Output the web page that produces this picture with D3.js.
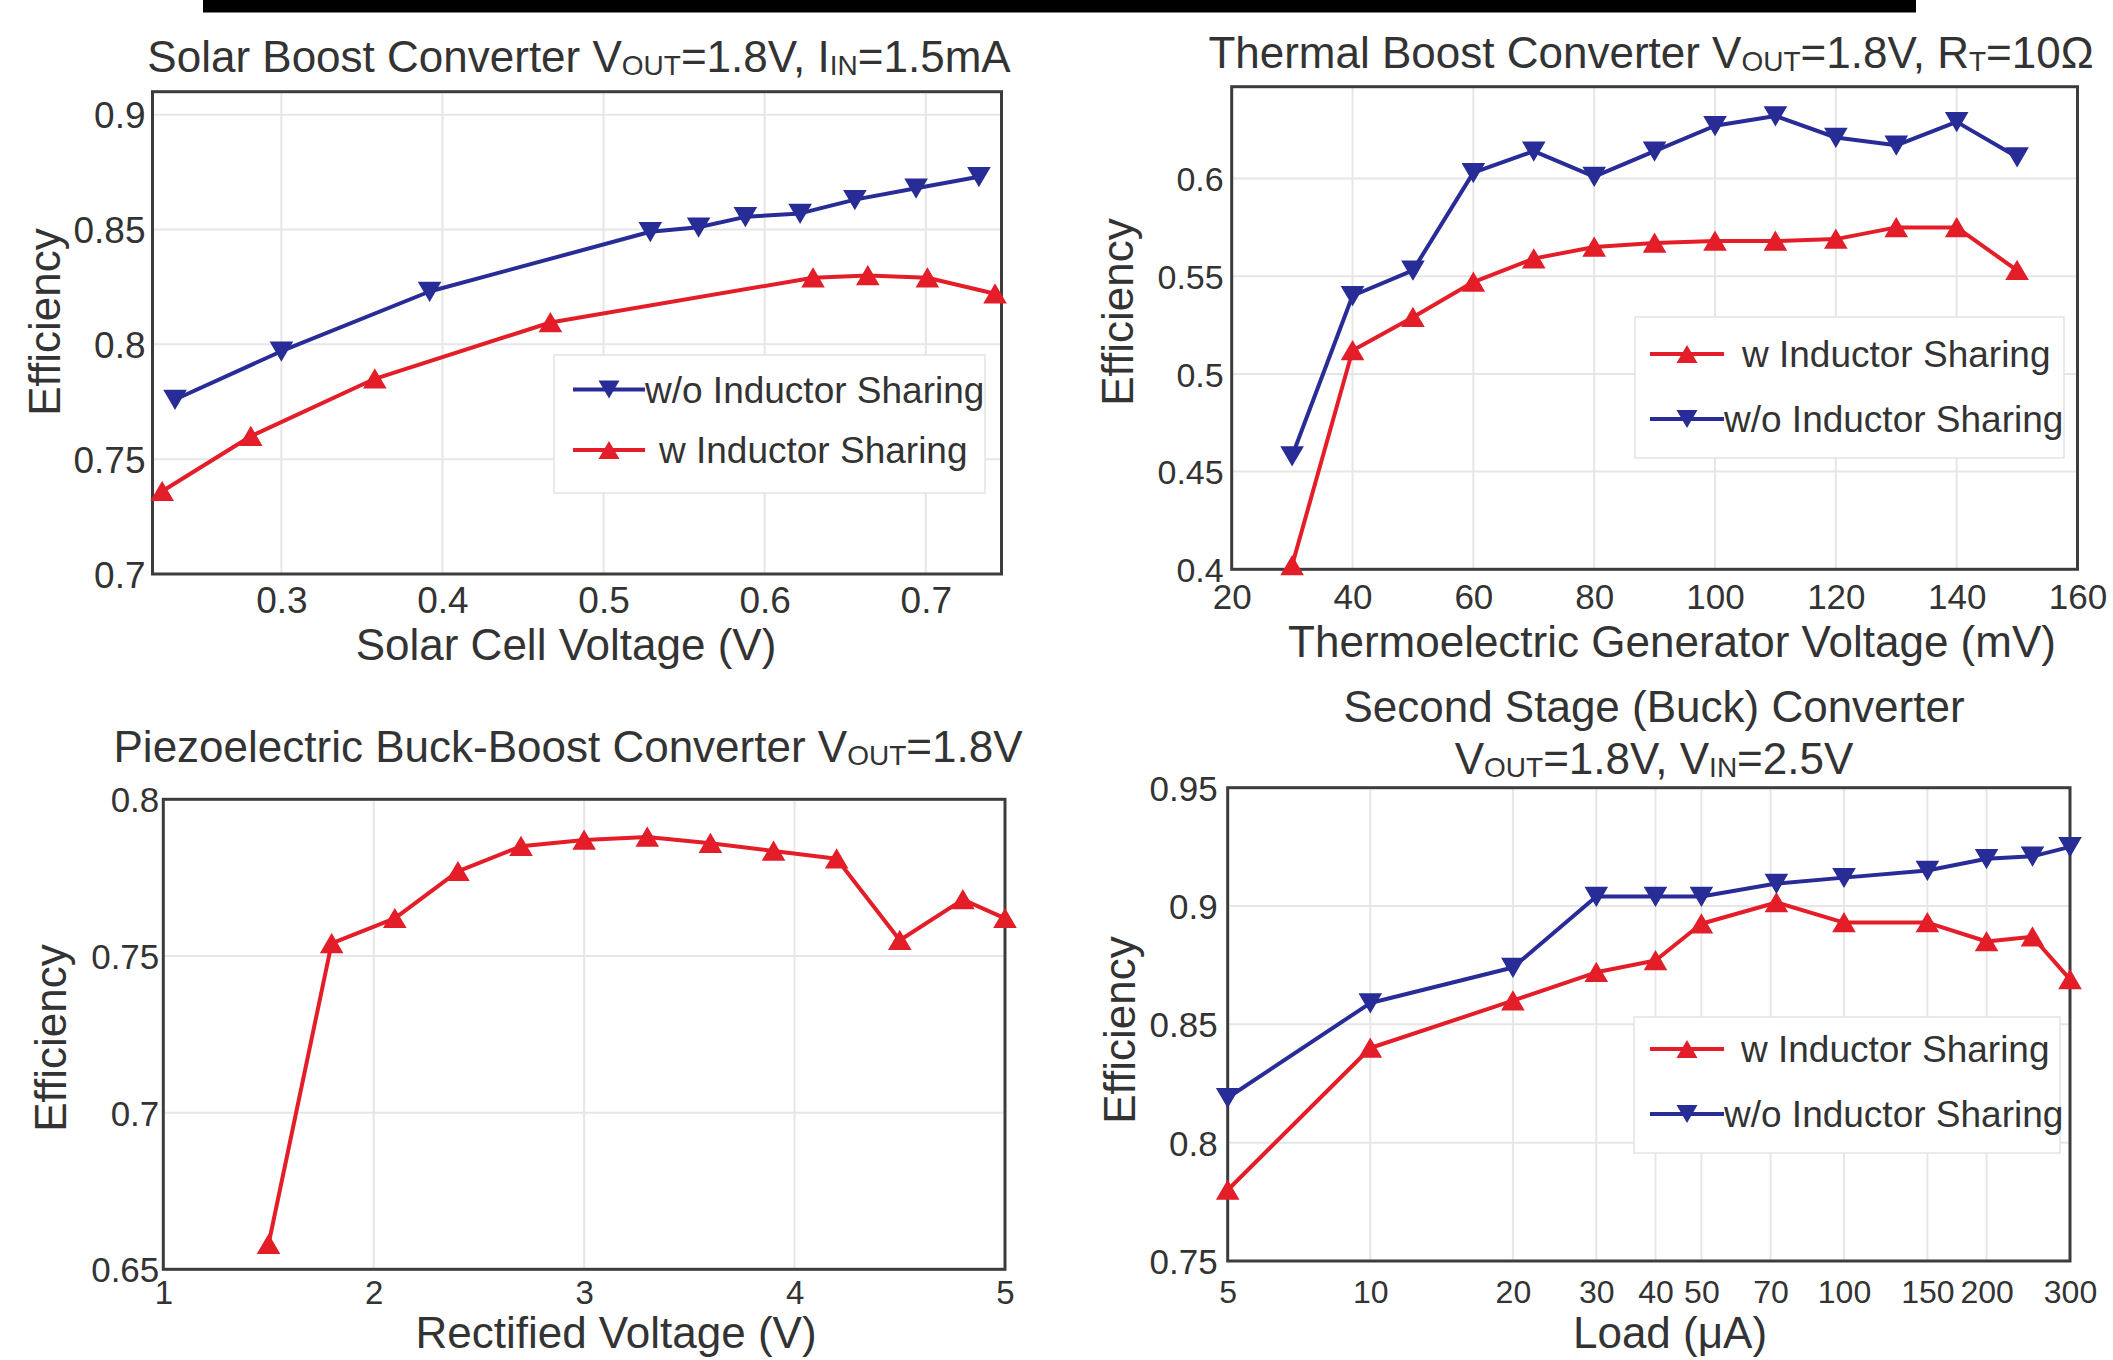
<!DOCTYPE html>
<html>
<head>
<meta charset="utf-8">
<script src="https://cdn.jsdelivr.net/npm/d3@7"></script>
<style>
  html, body { margin: 0; padding: 0; background: #fff; }
  svg { display: block; font-family: "Liberation Sans", Arial, Helvetica, sans-serif; }
</style>
</head>
<body>
<svg id="chart" width="2113" height="1360"></svg>
<script>
// ---- solar boost converter ----
const solarWoX   = [0.234, 0.300, 0.392, 0.529, 0.559, 0.588, 0.622, 0.656, 0.694, 0.733];
const solarWoEff = [0.776, 0.797, 0.823, 0.849, 0.851, 0.8555, 0.857, 0.863, 0.868, 0.873];
const solarWX    = [0.226, 0.281, 0.358, 0.467, 0.630, 0.664, 0.701, 0.743];
const solarWEff  = [0.736, 0.760, 0.785, 0.8095, 0.829, 0.830, 0.829, 0.822];
const solarXTicks = [0.3, 0.4, 0.5, 0.6, 0.7];
const solarYTicks = [0.7, 0.75, 0.8, 0.85, 0.9];

// ---- thermal boost converter ----
const thermalX     = [30, 40, 50, 60, 70, 80, 90, 100, 110, 120, 130, 140, 150];
const thermalWoEff = [0.458, 0.540, 0.553, 0.603, 0.614, 0.601, 0.614, 0.627, 0.632, 0.621, 0.617, 0.629, 0.611];
const thermalWEff  = [0.402, 0.512, 0.529, 0.547, 0.559, 0.565, 0.567, 0.568, 0.568, 0.569, 0.575, 0.575, 0.553];
const thermalXTicks = [20, 40, 60, 80, 100, 120, 140, 160];
const thermalYTicks = [0.4, 0.45, 0.5, 0.55, 0.6];

// ---- piezoelectric buck-boost ----
const piezoX   = [1.5, 1.8, 2.1, 2.4, 2.7, 3.0, 3.3, 3.6, 3.9, 4.2, 4.5, 4.8, 5.0];
const piezoEff = [0.658, 0.754, 0.762, 0.777, 0.785, 0.787, 0.788, 0.786, 0.7835, 0.781, 0.755, 0.768, 0.762];
const piezoXTicks = [1, 2, 3, 4, 5];
const piezoYTicks = [0.65, 0.7, 0.75, 0.8];

// ---- second stage buck ----
const buckLoad  = [5, 10, 20, 30, 40, 50, 72, 100, 150, 200, 250, 300];
const buckWoEff = [0.819, 0.859, 0.874, 0.904, 0.904, 0.904, 0.9095, 0.912, 0.915, 0.920, 0.921, 0.925];
const buckWEff  = [0.780, 0.840, 0.860, 0.872, 0.877, 0.8925, 0.9015, 0.893, 0.893, 0.885, 0.887, 0.869];
const buckXTicks = [5, 10, 20, 30, 40, 50, 70, 100, 150, 200, 300];
const buckYTicks = [0.75, 0.8, 0.85, 0.9, 0.95];

const RED = '#e31e28', BLUE = '#282c96', TEXT = '#333', AXIS = '#3c3c3c', GRID = '#e6e6e6';
const woName = 'w/o Inductor Sharing', wName = 'w Inductor Sharing';

const svg = d3.select('#chart');
svg.append('rect').attr('width', 2113).attr('height', 1360).attr('fill', '#fff');
// black strip left over from the crop
svg.append('rect').attr('x', 203).attr('y', 0).attr('width', 1713).attr('height', 12.5).attr('fill', '#000');

const fmt = d => String(+d.toFixed(2));

// triangle marker, centred on its bounding box like matlab does
function tri(dir, w = 21, h = 18) {
  const s = dir === 'up' ? 1 : -1;
  return `M0,${-s * h / 2}L${w / 2},${s * h / 2}L${-w / 2},${s * h / 2}Z`;
}

function addTitle(g, x, y, parts) {
  const t = g.append('text')
      .attr('x', x).attr('y', y)
      .attr('text-anchor', 'middle')
      .attr('font-size', 44)
      .attr('fill', TEXT);
  let prevSub = false;
  parts.forEach(p => {
    const sub = typeof p !== 'string';
    const ts = t.append('tspan').text(sub ? p.sub : p);
    if (sub) ts.attr('font-size', 28).attr('dy', 3);
    else if (prevSub) ts.attr('dy', -3);
    prevSub = sub;
  });
}

function drawPanel(p) {
  const g = svg.append('g');
  const x = p.x.range([p.left, p.right]);
  const y = p.y.range([p.bottom, p.top]);

  // grid
  g.append('g').selectAll('line').data(p.xTicks).join('line')
      .attr('x1', d => x(d)).attr('x2', d => x(d))
      .attr('y1', p.top).attr('y2', p.bottom)
      .attr('stroke', GRID).attr('stroke-width', 2);
  g.append('g').selectAll('line').data(p.yTicks).join('line')
      .attr('y1', d => y(d)).attr('y2', d => y(d))
      .attr('x1', p.left).attr('x2', p.right)
      .attr('stroke', GRID).attr('stroke-width', 2);

  // axes
  const xa = g.append('g')
      .attr('transform', `translate(0,${p.bottom})`)
      .call(d3.axisBottom(x).tickValues(p.xTicks).tickSize(0).tickFormat(p.xFmt || fmt));
  const ya = g.append('g')
      .attr('transform', `translate(${p.left},0)`)
      .call(d3.axisLeft(y).tickValues(p.yTicks).tickSize(0).tickFormat(fmt));
  [xa, ya].forEach(a => {
    a.attr('font-family', null);
    a.select('.domain').remove();
    a.selectAll('text').attr('fill', TEXT);
  });
  xa.attr('font-size', p.xTickSize);
  ya.attr('font-size', p.yTickSize);
  xa.selectAll('text').attr('y', p.xTickY).attr('dy', null);
  ya.selectAll('text').attr('x', -p.yTickGap).attr('dy', '0.36em');

  // frame
  g.append('rect')
      .attr('x', p.left).attr('y', p.top)
      .attr('width', p.right - p.left).attr('height', p.bottom - p.top)
      .attr('fill', 'none').attr('stroke', AXIS).attr('stroke-width', 3);

  // series
  p.series.forEach(s => {
    const pts = d3.zip(s.xs, s.ys);
    g.append('path')
        .datum(pts)
        .attr('fill', 'none').attr('stroke', s.color).attr('stroke-width', 4)
        .attr('stroke-linejoin', 'round')
        .attr('d', d3.line().x(d => x(d[0])).y(d => y(d[1])));
    g.append('g').selectAll('path').data(pts).join('path')
        .attr('transform', d => `translate(${x(d[0])},${y(d[1])})`)
        .attr('d', tri(s.dir))
        .attr('fill', s.color).attr('stroke', s.color).attr('stroke-width', 1.5);
  });

  // legend
  if (p.legend) {
    const L = p.legend;
    const lg = g.append('g');
    lg.append('rect')
        .attr('x', L.x).attr('y', L.y).attr('width', L.w).attr('height', L.h)
        .attr('fill', '#fff').attr('stroke', '#e4e4e4').attr('stroke-width', 1.5);
    L.rows.forEach((r, i) => {
      const s = p.series[r], ry = L.rowY[i];
      lg.append('line')
          .attr('x1', L.lineX0).attr('x2', L.lineX1).attr('y1', ry).attr('y2', ry)
          .attr('stroke', s.color).attr('stroke-width', 4);
      lg.append('path')
          .attr('transform', `translate(${(L.lineX0 + L.lineX1) / 2},${ry})`)
          .attr('d', tri(s.dir)).attr('fill', s.color);
      lg.append('text')
          .attr('x', L.lineX1 + (s.dir === 'up' ? L.wDx : 0)).attr('y', ry).attr('dy', '0.36em')
          .attr('font-size', 37).attr('fill', TEXT)
          .text(s.name);
    });
  }

  // labels
  addTitle(g, p.titleX, p.titleY[0], p.title);
  if (p.title2) addTitle(g, p.titleX, p.titleY[1], p.title2);
  g.append('text')
      .attr('x', p.xLabel[0]).attr('y', p.xLabel[1])
      .attr('text-anchor', 'middle').attr('font-size', 44).attr('fill', TEXT)
      .text(p.xLabel[2]);
  g.append('text')
      .attr('transform', `translate(${p.yLabel[0]},${p.yLabel[1]}) rotate(-90)`)
      .attr('text-anchor', 'middle').attr('font-size', 44).attr('fill', TEXT)
      .text('Efficiency');
}

drawPanel({
  left: 152.5, right: 1001.5, top: 91.7, bottom: 574,
  x: d3.scaleLinear().domain([0.22, 0.747]),
  y: d3.scaleLinear().domain([0.7, 0.91]),
  xTicks: solarXTicks, yTicks: solarYTicks,
  xTickSize: 37, yTickSize: 37,
  xTickY: 39, yTickGap: 7,
  series: [
    {xs: solarWoX, ys: solarWoEff, color: BLUE, dir: 'down', name: woName},
    {xs: solarWX, ys: solarWEff, color: RED, dir: 'up', name: wName}
  ],
  legend: {x: 554, y: 355, w: 431, h: 138, rows: [0, 1], rowY: [389.5, 450],
           lineX0: 573, lineX1: 645, wDx: 14},
  titleX: 579, titleY: [72],
  title: ['Solar Boost Converter V', {sub: 'OUT'}, '=1.8V, I', {sub: 'IN'}, '=1.5mA'],
  xLabel: [566, 660, 'Solar Cell Voltage (V)'],
  yLabel: [60, 322]
});

drawPanel({
  left: 1231.7, right: 2077.5, top: 86.7, bottom: 569.3,
  x: d3.scaleLinear().domain([20, 160]),
  y: d3.scaleLinear().domain([0.4, 0.647]),
  xTicks: thermalXTicks, yTicks: thermalYTicks,
  xTickSize: 35, yTickSize: 34,
  xTickY: 40, yTickGap: 8,
  series: [
    {xs: thermalX, ys: thermalWEff, color: RED, dir: 'up', name: wName},
    {xs: thermalX, ys: thermalWoEff, color: BLUE, dir: 'down', name: woName}
  ],
  legend: {x: 1635, y: 317, w: 429, h: 141, rows: [0, 1], rowY: [354, 419],
           lineX0: 1650, lineX1: 1724, wDx: 18},
  titleX: 1651, titleY: [68],
  title: ['Thermal Boost Converter V', {sub: 'OUT'}, '=1.8V, R', {sub: 'T'}, '=10Ω'],
  xLabel: [1672, 657, 'Thermoelectric Generator Voltage (mV)'],
  yLabel: [1133, 312]
});

drawPanel({
  left: 163.3, right: 1005, top: 799.3, bottom: 1269.3,
  x: d3.scaleLinear().domain([1, 5]),
  y: d3.scaleLinear().domain([0.65, 0.8]),
  xTicks: piezoXTicks, yTicks: piezoYTicks,
  xTickSize: 33, yTickSize: 35,
  xTickY: 35, yTickGap: 4,
  series: [
    {xs: piezoX, ys: piezoEff, color: RED, dir: 'up', name: wName}
  ],
  titleX: 568, titleY: [762],
  title: ['Piezoelectric Buck-Boost Converter V', {sub: 'OUT'}, '=1.8V'],
  xLabel: [616, 1348, 'Rectified Voltage (V)'],
  yLabel: [66, 1038]
});

drawPanel({
  left: 1227.7, right: 2070, top: 787.7, bottom: 1261,
  x: d3.scaleLog().domain([5, 300]),
  y: d3.scaleLinear().domain([0.75, 0.95]),
  xTicks: buckXTicks, yTicks: buckYTicks, xFmt: d3.format('d'),
  xTickSize: 32, yTickSize: 35,
  xTickY: 42, yTickGap: 10,
  series: [
    {xs: buckLoad, ys: buckWEff, color: RED, dir: 'up', name: wName},
    {xs: buckLoad, ys: buckWoEff, color: BLUE, dir: 'down', name: woName}
  ],
  legend: {x: 1634, y: 1017, w: 426, h: 136, rows: [0, 1], rowY: [1049, 1114],
           lineX0: 1650, lineX1: 1724, wDx: 17},
  titleX: 1654, titleY: [722, 774],
  title: ['Second Stage (Buck) Converter'],
  title2: ['V', {sub: 'OUT'}, '=1.8V, V', {sub: 'IN'}, '=2.5V'],
  xLabel: [1670, 1348, 'Load (μA)'],
  yLabel: [1135, 1030]
});
</script>
</body>
</html>
